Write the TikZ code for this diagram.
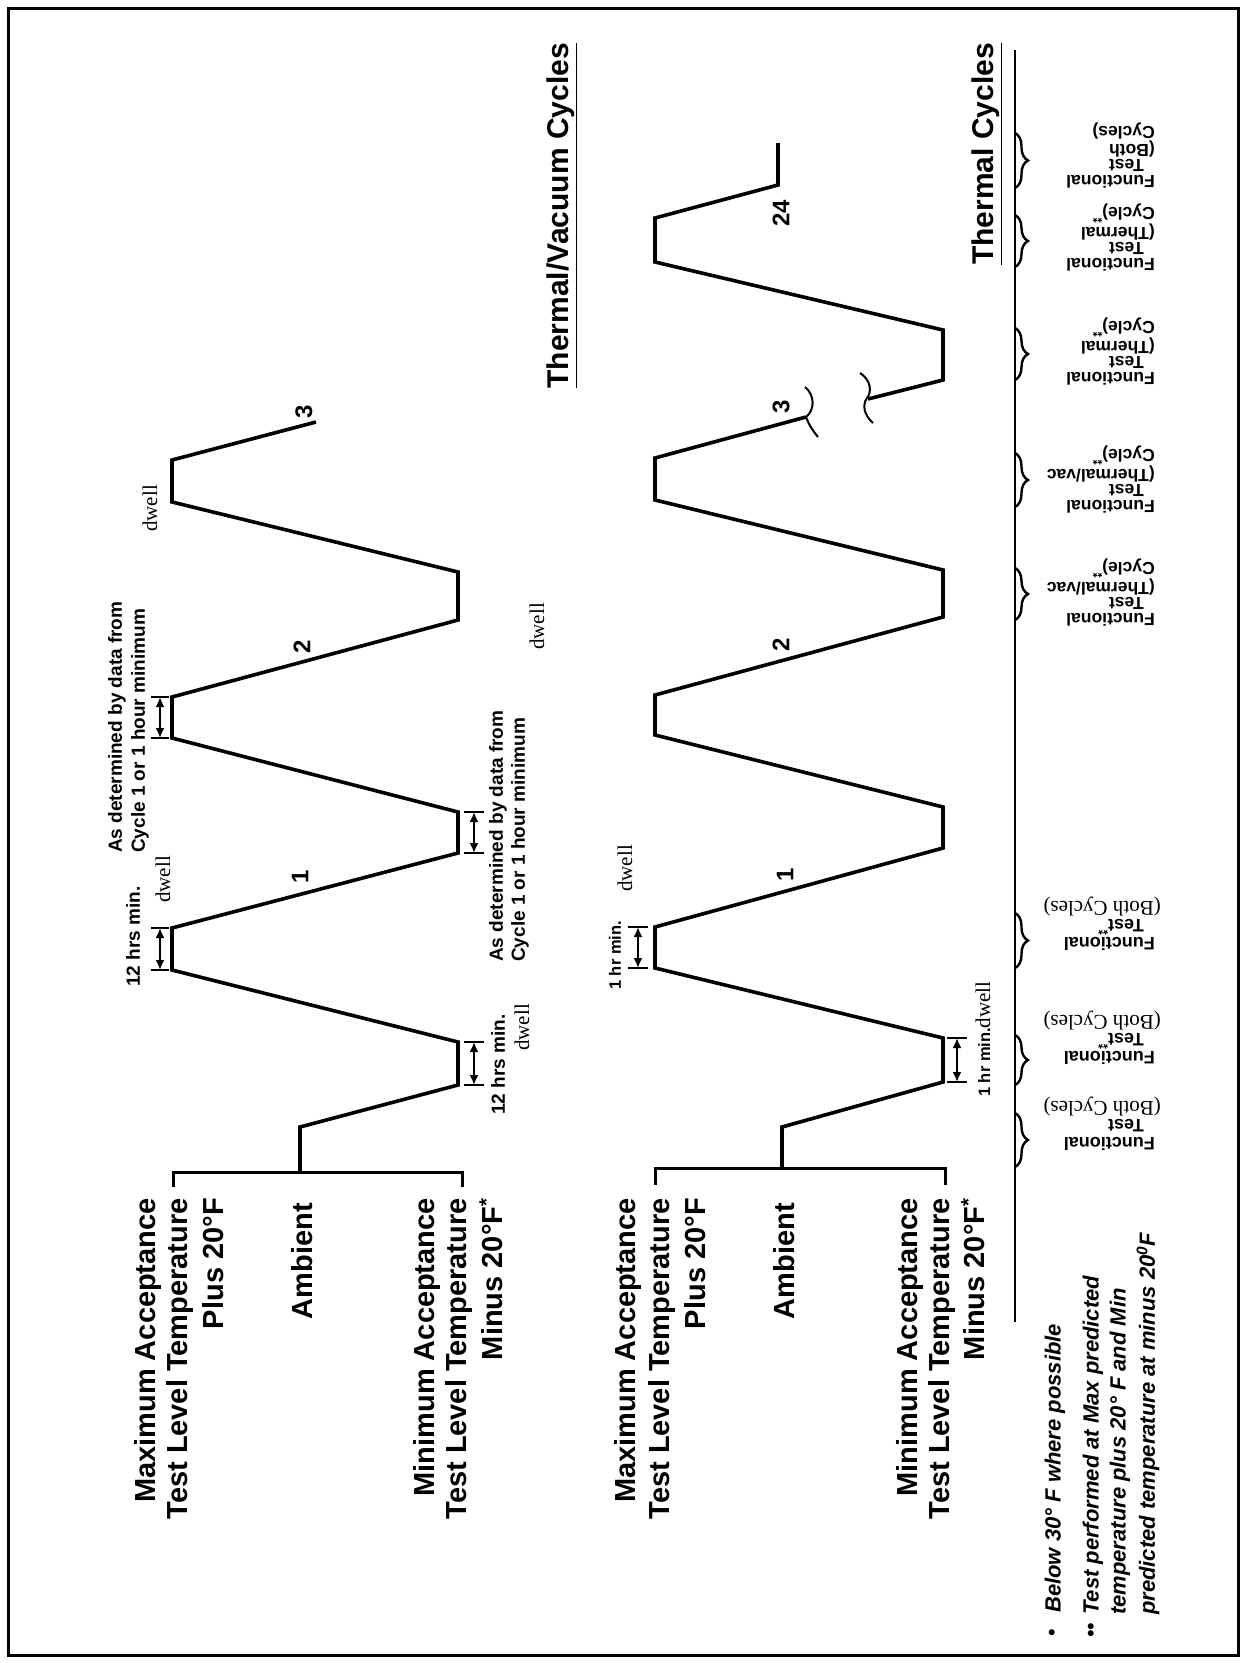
\documentclass[tikz,border=0pt]{standalone}
\usepackage{fontspec}
\setmainfont{Liberation Serif}
\setsansfont{Liberation Sans}
\usetikzlibrary{arrows.meta,decorations.pathreplacing}
\newcommand\fsz[2]{\fontsize{#1}{#2}\selectfont}
% a dwell span: ticks at both ends and a double arrow between them
\newcommand\dwellspan[4]{% x, y1, y2, half tick width
  \draw[tick] (#1-#4,#2) -- (#1+#4,#2);
  \draw[tick] (#1-#4,#3) -- (#1+#4,#3);
  \draw[span] (#1,#2) -- (#1,#3);}
\begin{document}
\begin{tikzpicture}[x=1pt,y=-1pt,
  trace/.style={line width=3.6pt,line join=miter},
  bracketline/.style={line width=3pt,line join=miter},
  tick/.style={line width=2.4pt},
  span/.style={line width=2.2pt,{Latex[length=10pt,width=9pt]}-{Latex[length=10pt,width=9pt]}},
  axisline/.style={line width=2.6pt},
  curly/.style={line width=2.4pt,decorate,decoration={brace,amplitude=13pt}},
  breakmark/.style={line width=2pt},
  level/.style={rotate=90,inner sep=0pt,anchor=east,font=\sffamily\bfseries\fsz{29}{31}},
  title/.style={rotate=90,inner sep=0pt,anchor=east,font=\sffamily\bfseries\fsz{30}{32}},
  cyc/.style={rotate=90,inner sep=0pt,font=\sffamily\bfseries\fsz{24}{26}},
  note/.style={rotate=90,inner sep=0pt,anchor=west,font=\sffamily\bfseries\fsz{19}{21}},
  small/.style={rotate=90,inner sep=0pt,anchor=west,font=\sffamily\bfseries\fsz{16.5}{18}},
  dw/.style={rotate=90,inner sep=0pt,anchor=west,font=\rmfamily\fsz{21}{22}},
  testlow/.style={rotate=180,inner sep=0pt,anchor=north west,align=left,font=\sffamily\bfseries\fsz{18}{18}},
  testup/.style={rotate=180,inner sep=0pt,anchor=north west,align=left,font=\sffamily\bfseries\fsz{17.5}{15.5}},
  foot/.style={rotate=90,inner sep=0pt,anchor=west,font=\sffamily\bfseries\itshape\fsz{22}{24}},
  bullet/.style={rotate=90,inner sep=0pt,font=\sffamily\fsz{22}{22}},
]
\useasboundingbox (0,0) rectangle (1246,1663);
\draw[line width=3pt] (8,8) rectangle (1238,1655);

% ---------------- Thermal/vacuum cycles ----------------
\draw[bracketline] (173,1187) -- (173,1172) -- (462,1172) -- (462,1187);
\draw[trace] (300,1172) -- (300,1127) -- (458,1085) -- (458,1042) -- (172,970) -- (172,928)
  -- (458,853) -- (458,812) -- (172,738) -- (172,697) -- (458,620) -- (458,572)
  -- (172,502) -- (172,460) -- (316,422);

\node[level] (mxa) at (148,1198) {Maximum Acceptance};
\node[level] (mxb) at (180,1198) {Test Level Temperature};
\node[level] (mxc) at (213,1198) {Plus 20°F};
\node[level] (amba) at (302,1203) {Ambient};
\node[level] (mna) at (427,1198) {Minimum Acceptance};
\node[level] (mnb) at (459,1198) {Test Level Temperature};
\node[level] (mnc) at (491,1198) {Minus 20°F\textsuperscript{*}};

\dwellspan{474}{1042}{1085}{10}
\dwellspan{160}{928}{970}{9}
\dwellspan{160}{697}{738}{9}
\dwellspan{474}{812}{853}{10}

\node[note] (hrsa) at (498,1115) {12 hrs min.};
\node[dw] (dwa) at (522,1051) {dwell};
\node[note] (hrsb) at (133,987) {12 hrs min.};
\node[dw] (dwb) at (163,903) {dwell};
\node[note] (deta) at (117,853) {As determined by data from};
\node[note] (detb) at (140,853) {Cycle 1 or 1 hour minimum};
\node[dw] (dwc) at (150,532) {dwell};
\node[note] (detc) at (498,962) {As determined by data from};
\node[note] (detd) at (520,962) {Cycle 1 or 1 hour minimum};
\node[dw] (dwd) at (537,650) {dwell};

\node[cyc] (ca1) at (300,877) {1};
\node[cyc] (ca2) at (302,647) {2};
\node[cyc] (ca3) at (304,412) {3};

\node[title] (ttva) at (562,43) {\underline{Thermal/Vacuum Cycles}};

% ---------------- Thermal cycles ----------------
\draw[bracketline] (655,1185) -- (655,1168) -- (945,1168) -- (945,1185);
\draw[trace] (782,1168) -- (782,1127) -- (943,1082) -- (943,1038) -- (655,968) -- (655,927)
  -- (943,848) -- (943,807) -- (655,735) -- (655,695) -- (943,617) -- (943,570)
  -- (655,500) -- (655,458) -- (806,417);
\draw[trace] (868,399) -- (943,380) -- (943,330) -- (655,262) -- (655,218) -- (778,185) -- (778,143);
\draw[breakmark] (805,387) .. controls (815,395) and (815,410) .. (806,417)
  .. controls (809,425) and (813,431) .. (818,437);
\draw[breakmark] (860,373) .. controls (871,380) and (872,392) .. (867,398)
  .. controls (862,405) and (864,415) .. (873,423);

\node[level] (mxd) at (628,1198) {Maximum Acceptance};
\node[level] (mxe) at (662,1198) {Test Level Temperature};
\node[level] (mxf) at (695,1198) {Plus 20°F};
\node[level] (ambb) at (784,1203) {Ambient};
\node[level] (mnd) at (910,1198) {Minimum Acceptance};
\node[level] (mne) at (942,1198) {Test Level Temperature};
\node[level] (mnf) at (973,1198) {Minus 20°F\textsuperscript{*}};

\dwellspan{957}{1038}{1082}{10}
\dwellspan{638}{927}{968}{10}

\node[small] (hrc) at (615,990) {1 hr min.};
\node[dw] (dwe) at (625,892) {dwell};
\node[small] (hrd) at (983,1097) {1 hr min.{\rmfamily\mdseries\fsz{21}{22}dwell}};

\node[cyc] (cb1) at (785,875) {1};
\node[cyc] (cb2) at (781,645) {2};
\node[cyc] (cb3) at (781,407) {3};
\node[cyc] (cb24) at (781,213) {24};

\node[title] (ttc) at (987,43) {\underline{Thermal Cycles}};

% ---------------- functional test time line ----------------
\draw[axisline] (1015,50) -- (1015,1322);
\foreach \ya/\yb in {133/188,215/267,328/380,453/507,568/620,913/968,1035/1085,1113/1167}
  \draw[curly] (1015,\ya) -- (1015,\yb);

\node[testup] (fa) at (1155,188) {Functional\\\hspace*{11pt}Test\\(Both\\Cycles)};
\node[testup] (fb) at (1155,271) {Functional\\\hspace*{11pt}Test\\(Thermal\\Cycle)\textsuperscript{**}};
\node[testup] (fc) at (1155,385) {Functional\\\hspace*{11pt}Test\\(Thermal\\Cycle)\textsuperscript{**}};
\node[testup] (fd) at (1155,513) {Functional\\\hspace*{11pt}Test\\(Thermal/vac\\Cycle)\textsuperscript{**}};
\node[testup] (fe) at (1155,626) {Functional\\\hspace*{11pt}Test\\(Thermal/vac\\Cycle)\textsuperscript{**}};
\node[testlow] (ff) at (1155,951) {Functional\\\hspace*{11pt}Test\textsuperscript{**}\\\hspace*{-6pt}{\rmfamily\mdseries\fsz{21}{18}(Both Cycles)}};
\node[testlow] (fg) at (1155,1065) {Functional\\\hspace*{11pt}Test\textsuperscript{**}\\\hspace*{-6pt}{\rmfamily\mdseries\fsz{21}{18}(Both Cycles)}};
\node[testlow] (fh) at (1155,1151) {Functional\\\hspace*{11pt}Test\\\hspace*{-6pt}{\rmfamily\mdseries\fsz{21}{18}(Both Cycles)}};

% ---------------- footnotes ----------------
\node[bullet] (bula) at (1054,1633) {•};
\node[bullet] (bulb) at (1093,1630) {••};
\node[foot] (fna) at (1055,1613) {Below 30° F where possible};
\node[foot] (fnb) at (1093,1615) {Test performed at Max predicted};
\node[foot] (fnc) at (1120,1615) {temperature plus 20° F and Min};
\node[foot] (fnd) at (1148,1615) {predicted temperature at minus 20\textsuperscript{0}F};
\end{tikzpicture}
\end{document}
